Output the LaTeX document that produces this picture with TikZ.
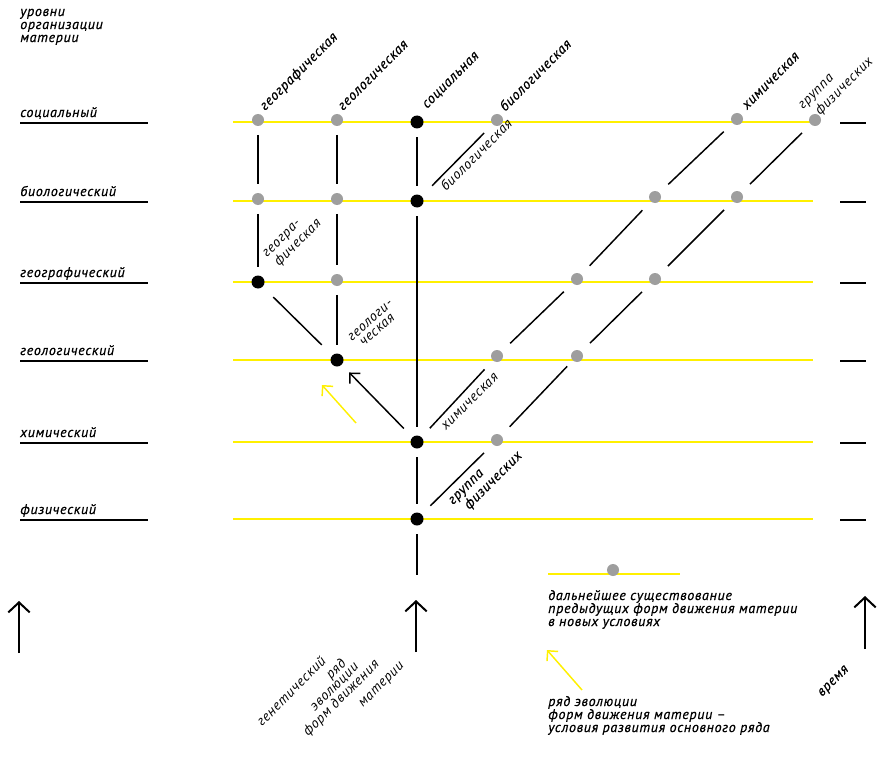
\documentclass[tikz,border=0pt]{standalone}
\usepackage{fontspec}
\setmainfont{PT Sans}
\newfontfamily\lf[LetterSpace=5,FakeBold=0.6]{PT Sans}
\newfontfamily\lfl[LetterSpace=5]{PT Sans}
\usetikzlibrary{arrows.meta}
\definecolor{yel}{RGB}{255,240,0}
\definecolor{gry}{RGB}{158,158,158}
\tikzset{
  txt/.style={font=\lf\itshape\fontsize{10.5}{11}\selectfont, inner sep=0, anchor=base west},
  ltxt/.style={font=\lfl\itshape\fontsize{10.5}{11}\selectfont, inner sep=0, anchor=base west},
  lvl/.style={txt},
  rot/.style={txt, rotate=45},
  lrot/.style={ltxt, rotate=45},
  bd/.style={circle, fill=black, inner sep=0, minimum size=9.75pt},
  gd/.style={circle, fill=gry, inner sep=0, minimum size=9pt},
  yline/.style={draw=yel, line width=1.5pt},
  uline/.style={draw=black, line width=1.8pt},
  vconn/.style={draw=black, line width=1.1pt, shorten <=6.5pt, shorten >=6.5pt},
  dconn/.style={draw=black, line width=1.1pt, shorten <=9pt, shorten >=9pt},
  bigarrow/.style={draw=black, line width=1.5pt, -{Straight Barb[length=7.5pt,width=16pt]}},
  smallarrow/.style={line width=1.1pt, -{Straight Barb[length=5.5pt,width=11pt]}}
}
\begin{document}
\begin{tikzpicture}[x=0.75pt,y=-0.75pt]
\useasboundingbox (0,0) rectangle (884,763);
% heading
\node[txt] (head) at (20,16) {уровни};
\node[txt] (head2) at (20,29) {организации};
\node[txt] (head3) at (20,42) {материи};
% level labels with underlines and right ticks
\foreach \y/\t/\n in {123/социальный/ls, 202/биологический/lb, 283/географический/lg, 361/геологический/ll, 443/химический/lc, 520/физический/lf}{
  \node[lvl] (\n) at (20,\y-6) {\t};
  \draw[uline] (20,\y) -- (148,\y);
  \draw[uline] (840,\y) -- (866,\y);
  \draw[yline] (233,\y-1) -- (813,\y-1);
}
% dots
\node[gd] (s1) at (258,120) {};
\node[gd] (s2) at (337,120) {};
\node[bd] (s3) at (417,122) {};
\node[gd] (s4) at (497,120) {};
\node[gd] (s7) at (737,119) {};
\node[gd] (s8) at (815,120) {};
\node[gd] (b1) at (258,199) {};
\node[gd] (b2) at (337,199) {};
\node[bd] (b3) at (417,201) {};
\node[gd] (b6) at (655,197) {};
\node[gd] (b7) at (737,197) {};
\node[bd] (g1) at (258,282) {};
\node[gd] (g2) at (337,280) {};
\node[gd] (g5) at (577,279) {};
\node[gd] (g6) at (655,279) {};
\node[bd] (l2) at (337,360) {};
\node[gd] (l4) at (497,356) {};
\node[gd] (l5) at (577,356) {};
\node[bd] (c3) at (417,442) {};
\node[gd] (c4) at (497,440) {};
\node[bd] (f3) at (417,519) {};
\coordinate (fend) at (417,575);
% vertical connectors
\draw[vconn] (s1) -- (b1);
\draw[vconn] (b1) -- (g1);
\draw[vconn] (s2) -- (b2);
\draw[vconn] (b2) -- (g2);
\draw[vconn] (g2) -- (l2);
\draw[vconn] (s3) -- (b3);
\draw[vconn] (b3) -- (c3);
\draw[vconn] (c3) -- (f3);
\draw[vconn, shorten >=0pt] (f3) -- (fend);
% diagonal connectors
\draw[dconn, shorten <=11pt, shorten >=11pt] (g1) -- (l2);
\draw[dconn, shorten <=11pt] (b3) -- (s4);
\draw[dconn] (c3) -- (l4);
\draw[dconn] (l4) -- (g5);
\draw[dconn] (g5) -- (b6);
\draw[dconn] (b6) -- (s7);
\draw[dconn] (f3) -- (c4);
\draw[dconn, shorten >=6pt] (c4) -- (l5);
\draw[dconn] (l5) -- (g6);
\draw[dconn] (g6) -- (b7);
\draw[dconn] (b7) -- (s8);
% arrows in the diagram
\draw[smallarrow, draw=black, shorten <=9pt, shorten >=8pt] (c3) -- (l2);
\coordinate (ya1) at (356,423);
\coordinate (ya2) at (322,385);
\draw[smallarrow, draw=yel] (ya1) -- (ya2);
% top rotated labels
\node[rot] (tgeo) at (265,111) {географическая};
\node[rot] (tgeol) at (343,111) {геологическая};
\node[rot] (tsoc) at (427,109) {социальная};
\node[rot] (tbio) at (505,112) {биологическая};
\node[rot] (tchem) at (747,110) {химическая};
\node[lrot] (tgr) at (803,110) {группа};
\node[lrot] (tfiz) at (820,116) {физических};
% annotations
\node[lrot] (abio) at (446,192) {биологическая};
\node[lrot] (ageo1) at (267,258) {геогра-};
\node[lrot] (ageo2) at (279,267) {фическая};
\node[lrot, rotate=-3] (ageol1) at (352,342) {геологи-};
\node[lrot, rotate=-3] (ageol2) at (364,347) {ческая};
\node[lrot] (achem) at (446,431) {химическая};
\node[rot] (agr) at (453,505) {группа};
\node[rot] (afiz) at (469,510) {физических};
% bottom arrows
\coordinate (la0) at (19,653); \coordinate (la1) at (19,601);
\draw[bigarrow] (la0) -- (la1);
\coordinate (ca0) at (416,652); \coordinate (ca1) at (416,600);
\draw[bigarrow] (ca0) -- (ca1);
\coordinate (ra0) at (865,649); \coordinate (ra1) at (865,596);
\draw[bigarrow] (ra0) -- (ra1);
% bottom rotated labels
\node[lrot] (bgen) at (262,727) {генетический};
\node[lrot] (brjad) at (331,680) {ряд};
\node[lrot] (bevo) at (315,712) {эволюции};
\node[lrot] (bform) at (308,737) {форм движения};
\node[lrot] (bmat) at (363,708) {материи};
\node[rot] (btime) at (822,697) {время};
% legend
\coordinate (lg0) at (548,574); \coordinate (lg1) at (680,574);
\draw[yline] (lg0) -- (lg1);
\node[gd] (lgd) at (613,570) {};
\node[txt] (leg1) at (548,600) {дальнейшее существование};
\node[txt] (leg2) at (548,613) {предыдущих форм движения материи};
\node[txt] (leg3) at (548,626) {в новых условиях};
\coordinate (ly0) at (582,690); \coordinate (ly1) at (547,650);
\draw[smallarrow, draw=yel] (ly0) -- (ly1);
\node[txt] (leg4) at (548,706) {ряд эволюции};
\node[txt] (leg5) at (548,719) {форм движения материи –};
\node[txt] (leg6) at (548,732) {условия развития основного ряда};
\end{tikzpicture}
\end{document}
